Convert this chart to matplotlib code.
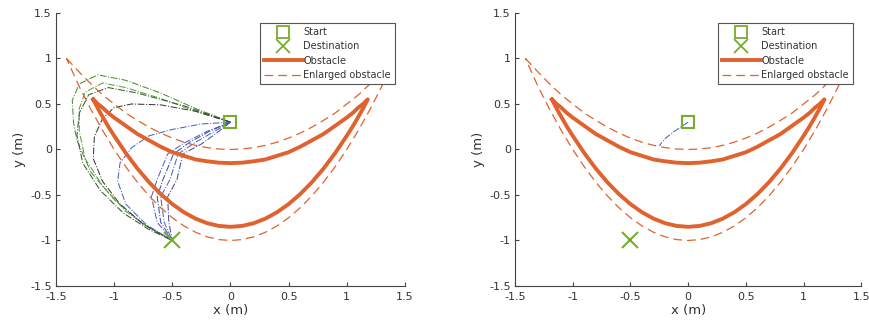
import numpy as np
import matplotlib.pyplot as plt
from matplotlib.lines import Line2D

# obstacle (thick) and enlarged obstacle (dashed)
obs_x = [-1.18, -1.14, -1.1, -1.05, -1.0, -0.9, -0.8, -0.7, -0.6, -0.5, -0.4, -0.3, -0.2, -0.1, 0.0,
         0.1, 0.2, 0.3, 0.4, 0.5, 0.6, 0.7, 0.8, 0.9, 1.0, 1.05, 1.1, 1.14, 1.18]
obs_top = [0.55, 0.50, 0.46, 0.40, 0.35, 0.26, 0.17, 0.10, 0.03, -0.03, -0.07, -0.11, -0.13, -0.145, -0.15,
           -0.145, -0.13, -0.11, -0.07, -0.03, 0.03, 0.10, 0.17, 0.26, 0.35, 0.40, 0.46, 0.50, 0.55]
obs_bot = [0.55, 0.45, 0.36, 0.25, 0.15, -0.04, -0.21, -0.36, -0.49, -0.60, -0.69, -0.76, -0.81, -0.84, -0.85,
           -0.84, -0.81, -0.76, -0.69, -0.60, -0.49, -0.36, -0.21, -0.04, 0.15, 0.25, 0.36, 0.45, 0.55]

enl_x = [-1.41, -1.3, -1.2, -1.1, -1.0, -0.9, -0.8, -0.7, -0.6, -0.5, -0.4, -0.3, -0.2, -0.1, 0.0,
         0.1, 0.2, 0.3, 0.4, 0.5, 0.6, 0.7, 0.8, 0.9, 1.0, 1.1, 1.2, 1.3, 1.41]
enl_top = [1.0, 0.85, 0.72, 0.60, 0.50, 0.40, 0.32, 0.245, 0.18, 0.125, 0.08, 0.045, 0.02, 0.005, 0.0,
           0.005, 0.02, 0.045, 0.08, 0.125, 0.18, 0.245, 0.32, 0.40, 0.50, 0.60, 0.72, 0.85, 1.0]
enl_bot = [1.0, 0.69, 0.44, 0.21, 0.0, -0.19, -0.36, -0.51, -0.64, -0.75, -0.84, -0.91, -0.96, -0.99, -1.0,
           -0.99, -0.96, -0.91, -0.84, -0.75, -0.64, -0.51, -0.36, -0.19, 0.0, 0.21, 0.44, 0.69, 1.0]

start = (0.0, 0.3)
dest = (-0.5, -1.0)

# trajectories of the left panel (x list, y list, colour)
paths_left = [
    ([0, -0.3, -0.6, -0.9, -1.14, -1.3, -1.36, -1.35, -1.32, -1.2, -1.0, -0.75, -0.5],
     [0.3, 0.45, 0.62, 0.76, 0.82, 0.72, 0.54, 0.3, 0.1, -0.25, -0.55, -0.82, -1.0], '#4e8f2e'),
    ([0, -0.3, -0.6, -0.9, -1.1, -1.25, -1.3, -1.3, -1.25, -1.1, -0.9, -0.7, -0.5],
     [0.3, 0.42, 0.56, 0.68, 0.73, 0.63, 0.45, 0.2, -0.1, -0.4, -0.68, -0.86, -1.0], '#5fa032'),
    ([0, -0.4, -0.8, -1.05, -1.22, -1.3, -1.32, -1.27, -1.12, -0.92, -0.7, -0.5],
     [0.3, 0.48, 0.62, 0.68, 0.6, 0.4, 0.15, -0.15, -0.45, -0.7, -0.88, -1.0], '#36583a'),
    ([0, -0.3, -0.6, -0.85, -1.0, -1.1, -1.17, -1.18, -1.1, -0.95, -0.75, -0.5],
     [0.3, 0.42, 0.49, 0.5, 0.46, 0.34, 0.14, -0.1, -0.35, -0.6, -0.82, -1.0], '#3a3a3a'),
    ([0, -0.25, -0.5, -0.7, -0.85, -0.95, -0.97, -0.9, -0.72, -0.5],
     [0.3, 0.28, 0.22, 0.15, 0.02, -0.15, -0.35, -0.6, -0.83, -1.0], '#4f63c0'),
    ([0, -0.2, -0.4, -0.54, -0.63, -0.68, -0.63, -0.5],
     [0.3, 0.2, 0.07, -0.05, -0.33, -0.52, -0.8, -1.0], '#4f63c0'),
    ([0, -0.18, -0.35, -0.49, -0.58, -0.63, -0.6, -0.5],
     [0.3, 0.2, 0.08, -0.05, -0.33, -0.52, -0.8, -1.0], '#3f52a8'),
    ([0, -0.15, -0.3, -0.45, -0.52, -0.6, -0.57, -0.5],
     [0.3, 0.19, 0.08, -0.05, -0.33, -0.52, -0.8, -1.0], '#4f63c0'),
    ([0, -0.12, -0.25, -0.41, -0.46, -0.54, -0.53, -0.5],
     [0.3, 0.18, 0.06, -0.05, -0.33, -0.52, -0.8, -1.0], '#3f52a8'),
]

# short trajectory in the right panel
path_right_x = [0, -0.06, -0.13, -0.2, -0.25]
path_right_y = [0.3, 0.25, 0.19, 0.12, 0.04]

ORANGE = '#e0622f'
GREEN = '#77ac30'
TXT = '#333333'

fig = plt.figure(figsize=(8.7, 3.27), dpi=100)
ax1 = fig.add_axes([0.0644, 0.1254, 0.401, 0.835])
ax2 = fig.add_axes([0.592, 0.1254, 0.398, 0.835])


def draw_obstacle(ax):
    ax.plot(obs_x + obs_x[::-1], obs_top + obs_bot[::-1], color=ORANGE, lw=2.8,
            solid_joinstyle='round', zorder=3)
    ax.plot(enl_x + enl_x[::-1], enl_top + enl_bot[::-1], color=ORANGE, lw=0.9,
            dashes=(7, 4), zorder=3)


def finish(ax, legend_x):
    ax.plot(*start, marker='s', ms=9, mfc='none', mec=GREEN, mew=1.5, ls='none', zorder=5)
    ax.plot(*dest, marker='x', ms=11, mec=GREEN, mew=1.5, ls='none', zorder=5)
    ax.set_xlim(-1.5, 1.5)
    ax.set_ylim(-1.5, 1.5)
    ax.set_xticks([-1.5, -1, -0.5, 0, 0.5, 1, 1.5])
    ax.set_yticks([-1.5, -1, -0.5, 0, 0.5, 1, 1.5])
    ax.set_xticklabels(['-1.5', '-1', '-0.5', '0', '0.5', '1', '1.5'])
    ax.set_yticklabels(['-1.5', '-1', '-0.5', '0', '0.5', '1', '1.5'])
    for s in ['top', 'right']:
        ax.spines[s].set_visible(False)
    for s in ['left', 'bottom']:
        ax.spines[s].set_color('#444444')
        ax.spines[s].set_linewidth(0.8)
    ax.tick_params(direction='in', length=3, width=0.8, color='#444444',
                   labelsize=8, labelcolor=TXT)
    ax.tick_params(axis='x', pad=4)
    ax.tick_params(axis='y', pad=3)
    ax.set_xlabel('x (m)', fontsize=9.5, color=TXT, labelpad=2)
    ax.set_ylabel('y (m)', fontsize=9.5, color=TXT, labelpad=3)

    handles = [
        Line2D([], [], marker='s', ms=8, mfc='none', mec=GREEN, mew=1.3, ls='none'),
        Line2D([], [], marker='x', ms=10, mec=GREEN, mew=1.3, ls='none'),
        Line2D([], [], color=ORANGE, lw=2.8),
        Line2D([], [], color=ORANGE, lw=0.9, dashes=(7, 4)),
    ]
    labels = ['Start', 'Destination', 'Obstacle', 'Enlarged obstacle']
    leg = ax.legend(handles, labels, loc='upper right', bbox_to_anchor=(legend_x, 0.963),
                    fontsize=7.0, handlelength=4.0, handletextpad=0.05, labelspacing=0.45,
                    borderpad=0.4, borderaxespad=0, fancybox=False, framealpha=1)
    leg.get_frame().set_edgecolor('#555555')
    leg.get_frame().set_linewidth(0.8)
    for t in leg.get_texts():
        t.set_color(TXT)


draw_obstacle(ax1)
for px, py, c in paths_left:
    ax1.plot(px, py, color=c, lw=0.75, ls='-.', zorder=2)
finish(ax1, 0.971)

draw_obstacle(ax2)
ax2.plot(path_right_x, path_right_y, color='#4f63c0', lw=0.75, ls='-.', zorder=2)
finish(ax2, 0.975)

fig.savefig('out.png', dpi=100)
